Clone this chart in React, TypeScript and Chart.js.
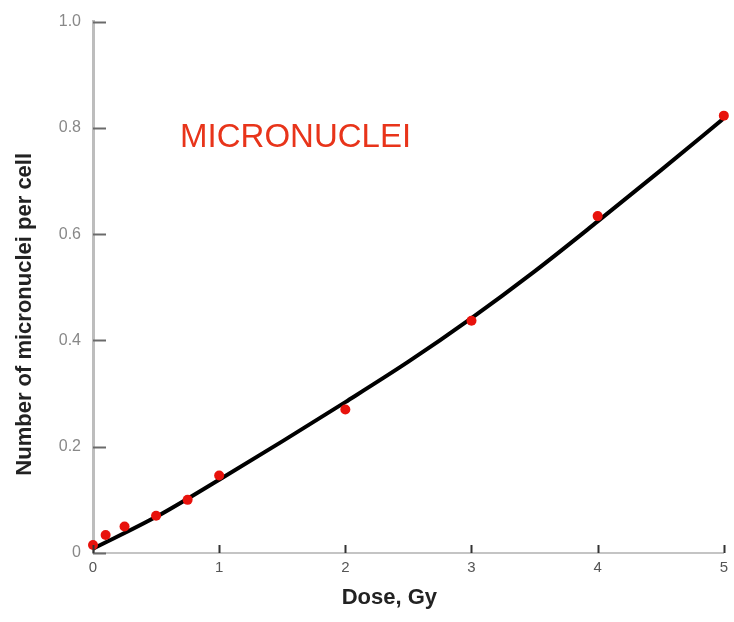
import React, { useEffect, useRef } from "react";
import { Chart, registerables } from "chart.js";

Chart.register(...registerables);

// Measured points (dose in Gy, micronuclei per cell)
const doses = [0, 0.1, 0.25, 0.5, 0.75, 1, 2, 3, 4, 5];
const micronuclei = [0.015, 0.034, 0.05, 0.07, 0.1, 0.146, 0.27, 0.437, 0.634, 0.823];

// Fitted curve
const curveDoses = [0, 0.5, 1, 1.5, 2, 2.5, 3, 3.5, 4, 4.5, 5];
const curveValues = [0.008, 0.068, 0.138, 0.21, 0.284, 0.36, 0.442, 0.53, 0.624, 0.72, 0.818];

const xTickLabels = ["0", "1", "2", "3", "4", "5"];
const yTickLabels = ["0", "0.2", "0.4", "0.6", "0.8", "1.0"];

const xTitle = "Dose, Gy";
const yTitle = "Number of micronuclei per cell";
const annotation = "MICRONUCLEI";

const FONT = "'Liberation Sans', Arial, sans-serif";

const decorPlugin = {
  id: "decor",
  afterDraw(chart: any) {
    const { ctx, chartArea, scales } = chart;
    const xs = scales.x;
    const ys = scales.y;
    ctx.save();
    // inward tick marks
    ctx.strokeStyle = "#6a6a6a";
    ctx.lineWidth = 2;
    ys.ticks.forEach((t: any) => {
      const py = Math.round(ys.getPixelForValue(t.value)) + 0.5;
      ctx.beginPath();
      ctx.moveTo(chartArea.left, py);
      ctx.lineTo(chartArea.left + 13, py);
      ctx.stroke();
    });
    ctx.strokeStyle = "#333";
    xs.ticks.forEach((t: any) => {
      const px = Math.round(xs.getPixelForValue(t.value)) + 0.5;
      ctx.beginPath();
      ctx.moveTo(px, chartArea.bottom);
      ctx.lineTo(px, chartArea.bottom - 8);
      ctx.stroke();
    });
    // axis titles
    ctx.fillStyle = "#222";
    ctx.font = `bold 22px ${FONT}`;
    ctx.textAlign = "center";
    ctx.textBaseline = "middle";
    ctx.fillText(xTitle, (chartArea.left + chartArea.right) / 2 - 19, 598);
    ctx.save();
    ctx.translate(25, (chartArea.top + chartArea.bottom) / 2 + 27);
    ctx.rotate(-Math.PI / 2);
    ctx.fillText(yTitle, 0, 0);
    ctx.restore();
    // annotation
    ctx.fillStyle = "#e8341a";
    ctx.font = `33px ${FONT}`;
    ctx.textAlign = "left";
    ctx.textBaseline = "middle";
    ctx.fillText(annotation, xs.getPixelForValue(0.69), ys.getPixelForValue(0.782));
    ctx.restore();
  },
};

export default function App() {
  const ref = useRef<HTMLCanvasElement | null>(null);

  useEffect(() => {
    if (!ref.current) return;
    const chart = new Chart(ref.current, {
      type: "scatter",
      data: {
        datasets: [
          {
            type: "line",
            label: "fit",
            data: curveDoses.map((d, i) => ({ x: d, y: curveValues[i] })),
            borderColor: "#000",
            borderWidth: 4,
            pointRadius: 0,
            tension: 0.4,
            cubicInterpolationMode: "monotone",
            fill: false,
            order: 2,
          } as any,
          {
            label: "data",
            data: doses.map((d, i) => ({ x: d, y: micronuclei[i] })),
            backgroundColor: "#e8120c",
            borderColor: "#e8120c",
            pointRadius: 5,
            borderWidth: 0,
            clip: false,
            order: 1,
          } as any,
        ],
      },
      options: {
        responsive: false,
        animation: false,
        layout: { padding: { top: 17, right: 10, left: 0, bottom: 0 } },
        plugins: {
          legend: { display: false },
          tooltip: { enabled: false },
        },
        scales: {
          x: {
            type: "linear",
            min: 0,
            max: 5,
            afterFit: (s: any) => {
              s.height = 69;
            },
            grid: { display: false, drawTicks: false },
            border: { display: true, color: "#c4c4c4", width: 2 },
            ticks: {
              stepSize: 1,
              padding: 6,
              color: "#555",
              font: { family: FONT, size: 15 },
              callback: (v: any, i: number) => xTickLabels[i] ?? String(v),
            },
          },
          y: {
            type: "linear",
            min: 0,
            max: 1,
            afterFit: (s: any) => {
              s.width = 93;
            },
            grid: { display: false, drawTicks: false },
            border: { display: true, color: "#bdbdbd", width: 3 },
            ticks: {
              stepSize: 0.2,
              padding: 12,
              color: "#888",
              font: { family: FONT, size: 16 },
              callback: (v: any, i: number) => yTickLabels[i] ?? String(v),
            },
          },
        },
      },
      plugins: [decorPlugin],
    });
    return () => chart.destroy();
  }, []);

  return (
    <canvas
      ref={ref}
      width={734}
      height={622}
      style={{ position: "absolute", left: 0, top: 0, display: "block", background: "#fff" }}
    />
  );
}
